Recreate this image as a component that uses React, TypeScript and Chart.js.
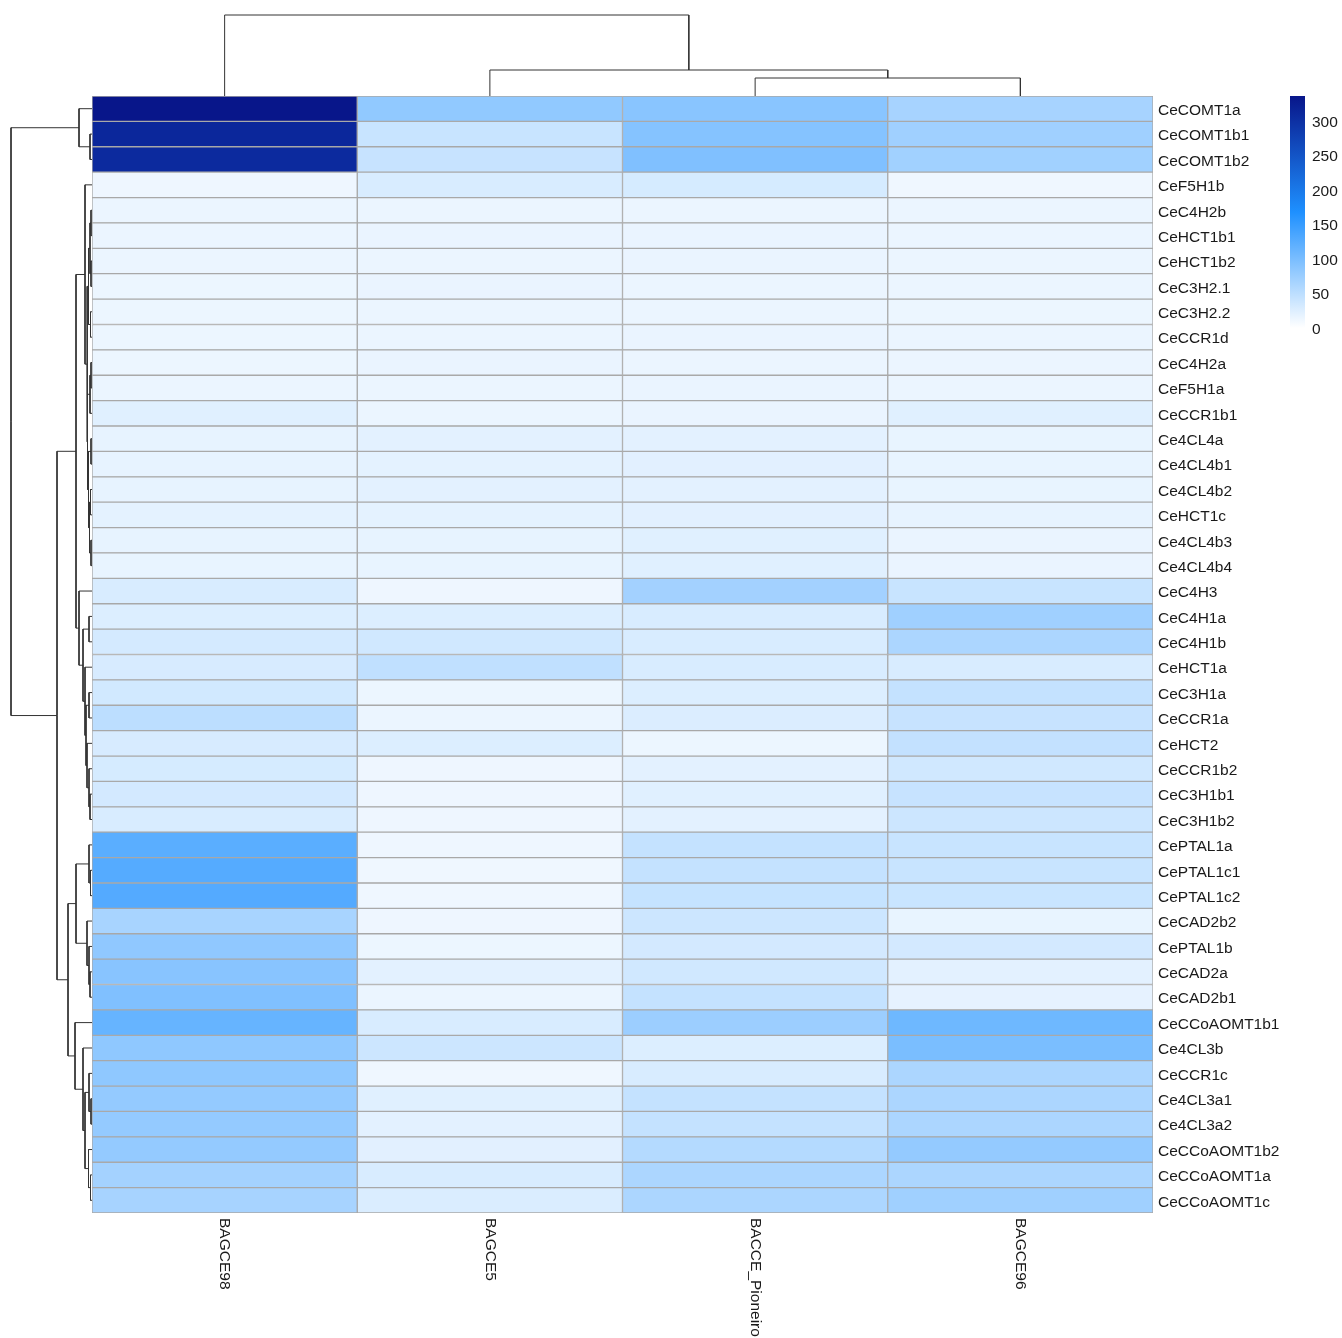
import { useEffect, useRef } from "react";
import { Chart, registerables } from "chart.js";

Chart.register(...registerables);

// ---------------- data ----------------
const genes = [
  "CeCOMT1a", "CeCOMT1b1", "CeCOMT1b2", "CeF5H1b", "CeC4H2b", "CeHCT1b1", "CeHCT1b2",
  "CeC3H2.1", "CeC3H2.2", "CeCCR1d", "CeC4H2a", "CeF5H1a", "CeCCR1b1", "Ce4CL4a",
  "Ce4CL4b1", "Ce4CL4b2", "CeHCT1c", "Ce4CL4b3", "Ce4CL4b4", "CeC4H3", "CeC4H1a",
  "CeC4H1b", "CeHCT1a", "CeC3H1a", "CeCCR1a", "CeHCT2", "CeCCR1b2", "CeC3H1b1",
  "CeC3H1b2", "CePTAL1a", "CePTAL1c1", "CePTAL1c2", "CeCAD2b2", "CePTAL1b", "CeCAD2a",
  "CeCAD2b1", "CeCCoAOMT1b1", "Ce4CL3b", "CeCCR1c", "Ce4CL3a1", "Ce4CL3a2",
  "CeCCoAOMT1b2", "CeCCoAOMT1a", "CeCCoAOMT1c",
];

const samples = ["BAGCE98", "BAGCE5", "BACCE_Pioneiro", "BAGCE96"];

const BAGCE98 = [
  336, 312, 308, 13, 15, 15, 15, 14, 14, 14, 14, 15, 23, 18, 18, 18, 20, 18, 17, 29, 26,
  32, 30, 34, 50, 30, 31, 33, 29, 123, 127, 128, 65, 83, 89, 95, 114, 84, 84, 80, 80, 80,
  68, 66,
];
const BAGCE5 = [
  82, 41, 42, 29, 15, 16, 15, 16, 15, 15, 16, 15, 15, 21, 20, 21, 20, 18, 17, 13, 26, 35,
  47, 14, 15, 26, 13, 13, 13, 13, 12, 12, 13, 14, 21, 15, 29, 38, 12, 23, 21, 22, 29, 28,
];
const BACCE_Pioneiro = [
  88, 91, 95, 31, 15, 16, 16, 15, 15, 16, 15, 16, 16, 21, 22, 21, 22, 23, 23, 69, 29, 29,
  29, 26, 27, 14, 21, 23, 21, 44, 44, 43, 38, 33, 35, 44, 74, 26, 29, 44, 44, 56, 62, 62,
];
const BAGCE96 = [
  66, 71, 70, 12, 15, 15, 15, 15, 14, 15, 15, 15, 23, 17, 17, 17, 18, 16, 16, 41, 71, 62,
  29, 44, 42, 45, 35, 42, 38, 41, 41, 40, 17, 33, 21, 19, 108, 99, 62, 62, 62, 80, 62, 71,
];

const columns = [BAGCE98, BAGCE5, BACCE_Pioneiro, BAGCE96];

// hclust-style merges: negative = leaf (1-based row/column), positive = earlier merge (1-based)
const rowMerges: [number, number, number][] = [
  [-2, -3, 2], [-1, 1, 13], [-5, -6, 1], [-7, -8, 1], [3, 4, 2], [-9, -10, 1.5],
  [5, 6, 3.5], [-11, -12, 1], [8, -13, 2], [-14, -15, 1], [-16, -17, 1.5], [-18, -19, 1],
  [11, 12, 2.5], [10, 13, 3.5], [9, 14, 4.5], [7, 15, 5], [-4, 16, 7], [-21, -22, 3],
  [-24, -25, 3], [-28, -29, 2], [-27, 20, 3], [-26, 21, 5], [19, 22, 6], [-23, 23, 7],
  [18, 24, 9], [-20, 25, 13], [17, 26, 16], [-31, -32, 1.5], [-30, 28, 3], [-35, -36, 2],
  [-34, 30, 3], [-33, 31, 5], [29, 32, 16], [-40, -41, 1], [-39, 34, 3], [-43, -44, 1.5],
  [-42, 36, 3.5], [35, 37, 7], [-38, 38, 9], [-37, 39, 17], [33, 40, 24], [27, 41, 35],
  [2, 42, 81],
];
const colMerges: [number, number, number][] = [[-3, -4, 18], [-2, 1, 26], [-1, 2, 81]];

const legendTicks = [0, 50, 100, 150, 200, 250, 300];

// ---------------- helpers ----------------
const VMAX = Math.max(...columns.flat());
const VMIN = 0;
const LOW = [255, 255, 255];
const MID = [30, 144, 255];
const HIGH = [8, 22, 138];

function colorFor(v: number) {
  const t = Math.min(1, Math.max(0, (v - VMIN) / (VMAX - VMIN)));
  let a, b, u;
  if (t <= 0.5) { a = LOW; b = MID; u = t / 0.5; } else { a = MID; b = HIGH; u = (t - 0.5) / 0.5; }
  const c = a.map((x, i) => Math.round(x + (b[i] - x) * u));
  return `rgb(${c[0]},${c[1]},${c[2]})`;
}

function buildSegments(merges: [number, number, number][]) {
  const pos: number[] = [];
  const hts: number[] = [];
  const segs: [number, number][][] = [];
  merges.forEach(([a, b, h], k) => {
    const pa = a < 0 ? -a - 0.5 : pos[a - 1];
    const ha = a < 0 ? 0 : hts[a - 1];
    const pb = b < 0 ? -b - 0.5 : pos[b - 1];
    const hb = b < 0 ? 0 : hts[b - 1];
    pos[k] = (pa + pb) / 2;
    hts[k] = h;
    segs.push([[pa, ha], [pa, h], [pb, h], [pb, hb]]);
  });
  return segs;
}

const FONT = "'Liberation Sans', Arial, Helvetica, sans-serif";
const TEXT = "#1a1a1a";
const LINE = "#333333";
const FS = 15.5;

// layout (page pixels)
const HM_LEFT = 92, HM_TOP = 96, HM_W = 1061, HM_H = 1117;
const TREE = 86;

export default function App() {
  const hmRef = useRef<HTMLCanvasElement>(null);
  const topRef = useRef<HTMLCanvasElement>(null);
  const leftRef = useRef<HTMLCanvasElement>(null);
  const legRef = useRef<HTMLCanvasElement>(null);

  useEffect(() => {
    Chart.defaults.font.family = FONT;
    const charts: Chart[] = [];

    // heatmap
    const colLabelPlugin = {
      id: "colLabels",
      afterDraw(chart: any) {
        const { ctx, chartArea, scales } = chart;
        ctx.save();
        ctx.fillStyle = TEXT;
        ctx.font = `${FS}px ${FONT}`;
        ctx.textAlign = "left";
        ctx.textBaseline = "middle";
        samples.forEach((s, c) => {
          const x = scales.x.getPixelForValue(c + 0.5);
          ctx.save();
          ctx.translate(x, chartArea.bottom + 5);
          ctx.rotate(Math.PI / 2);
          ctx.fillText(s, 0, 0);
          ctx.restore();
        });
        ctx.restore();
      },
    };

    charts.push(
      new Chart(hmRef.current!, {
        type: "bar",
        data: {
          labels: genes,
          datasets: columns.map((vals, c) => ({
            label: samples[c],
            data: genes.map(() => [c, c + 1]),
            backgroundColor: vals.map(colorFor),
            borderColor: "#a9a9a9",
            borderWidth: 1,
            borderSkipped: false,
            grouped: false,
            barPercentage: 1,
            categoryPercentage: 1,
          })) as any,
        },
        options: {
          indexAxis: "y",
          responsive: false,
          animation: false,
          layout: { padding: { left: 0, top: 0, right: 0, bottom: 125 } },
          plugins: { legend: { display: false }, tooltip: { enabled: false } },
          scales: {
            x: { type: "linear", min: 0, max: samples.length, display: false },
            y: {
              type: "category",
              position: "right",
              grid: { display: false, drawTicks: false },
              border: { display: false },
              ticks: { padding: 5, color: TEXT, font: { size: FS }, autoSkip: false, labelOffset: 2 },
              afterFit: (s: any) => {
                s.width = 1250 - HM_W;
                s.paddingTop = 0;
                s.paddingBottom = 0;
              },
            },
          },
        },
        plugins: [colLabelPlugin],
      } as any)
    );

    // top (column) dendrogram
    const colSegs = buildSegments(colMerges);
    charts.push(
      new Chart(topRef.current!, {
        type: "scatter",
        data: {
          datasets: colSegs.map((seg) => ({
            data: seg.map(([p, h]) => ({ x: p, y: h })),
            showLine: true,
            borderColor: LINE,
            borderWidth: 1,
            pointRadius: 0,
            clip: false,
          })),
        },
        options: {
          responsive: false,
          animation: false,
          plugins: { legend: { display: false }, tooltip: { enabled: false } },
          scales: {
            x: { type: "linear", min: 0, max: samples.length, display: false },
            y: { type: "linear", min: 0, max: TREE, display: false },
          },
        },
      } as any)
    );

    // left (row) dendrogram
    const rowSegs = buildSegments(rowMerges);
    charts.push(
      new Chart(leftRef.current!, {
        type: "scatter",
        data: {
          datasets: rowSegs.map((seg) => ({
            data: seg.map(([p, h]) => ({ x: h, y: p })),
            showLine: true,
            borderColor: LINE,
            borderWidth: 1,
            pointRadius: 0,
            clip: false,
          })),
        },
        options: {
          responsive: false,
          animation: false,
          plugins: { legend: { display: false }, tooltip: { enabled: false } },
          scales: {
            x: { type: "linear", min: 0, max: TREE, reverse: true, display: false },
            y: { type: "linear", min: 0, max: genes.length, reverse: true, display: false },
          },
        },
      } as any)
    );

    // colour legend
    charts.push(
      new Chart(legRef.current!, {
        type: "bar",
        data: {
          labels: [""],
          datasets: [
            {
              data: [[VMIN, VMAX]],
              backgroundColor: (ctx: any) => {
                const chart = ctx.chart;
                const y = chart.scales.y;
                if (!chart.chartArea || !y) return colorFor(VMAX / 2);
                const g = chart.ctx.createLinearGradient(
                  0, y.getPixelForValue(VMIN), 0, y.getPixelForValue(VMAX)
                );
                [0, 0.25, 0.5, 0.75, 1].forEach((s) =>
                  g.addColorStop(s, colorFor(VMIN + s * (VMAX - VMIN)))
                );
                return g;
              },
              borderWidth: 0,
              barPercentage: 1,
              categoryPercentage: 1,
            },
          ] as any,
        },
        options: {
          responsive: false,
          animation: false,
          layout: { padding: { top: 8, bottom: 10, left: 0, right: 0 } },
          plugins: { legend: { display: false }, tooltip: { enabled: false } },
          scales: {
            x: { display: false },
            y: {
              type: "linear",
              min: VMIN,
              max: VMAX,
              position: "right",
              grid: { display: false, drawTicks: false },
              border: { display: false },
              afterBuildTicks: (s: any) => {
                s.ticks = legendTicks.map((v) => ({ value: v }));
              },
              ticks: { padding: 7, color: TEXT, font: { size: FS }, labelOffset: 1.5 },
              afterFit: (s: any) => {
                s.width = 37;
                s.paddingTop = 0;
                s.paddingBottom = 0;
              },
            },
          },
        },
      } as any)
    );

    return () => charts.forEach((c) => c.destroy());
  }, []);

  const abs = (left: number, top: number, w: number, h: number) => ({
    position: "absolute" as const,
    left,
    top,
    width: w,
    height: h,
  });

  return (
    <div style={{ position: "absolute", left: 0, top: 0, width: 1342, height: 1338, background: "#fff" }}>
      <canvas ref={topRef} width={HM_W} height={TREE} style={abs(HM_LEFT, HM_TOP - TREE, HM_W, TREE)} />
      <canvas ref={leftRef} width={TREE} height={HM_H} style={abs(HM_LEFT - TREE, HM_TOP, TREE, HM_H)} />
      <canvas ref={hmRef} width={1250} height={1242} style={abs(HM_LEFT, HM_TOP, 1250, 1242)} />
      <canvas ref={legRef} width={52} height={250} style={abs(1290, 88, 52, 250)} />
    </div>
  );
}
